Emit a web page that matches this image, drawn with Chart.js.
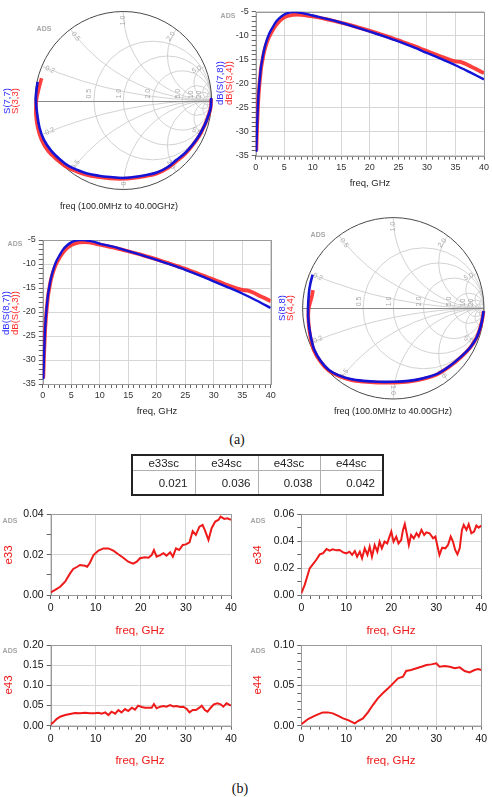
<!DOCTYPE html>
<html><head><meta charset="utf-8">
<script src="https://cdn.jsdelivr.net/npm/chart.js@4.4.1/dist/chart.umd.min.js"></script>
<style>
html,body{margin:0;padding:0;background:#fff;}
#page{position:relative;width:492px;height:797px;overflow:hidden;font-family:"Liberation Sans",Arial,sans-serif;}
#page canvas{position:absolute;left:0;top:0;}
#tbl{position:absolute;left:131px;top:454px;width:252px;border-collapse:collapse;border:2px solid #222;font:11.5px "Liberation Sans",Arial,sans-serif;color:#222;table-layout:fixed;}
#tbl th,#tbl td{border:1px solid #b0b0b0;padding:0;}
#tbl th{height:14px;font-weight:normal;text-align:center;}
#tbl td{height:23px;text-align:right;padding-right:7px;}
.cap{position:absolute;transform:translate(-50%,-50%);font:14px "Liberation Serif","DejaVu Serif",serif;color:#111;}
</style></head>
<body><div id="page">
<div class="cap" style="left:237px;top:440px">(a)</div>
<div class="cap" style="left:240px;top:789px">(b)</div>
</div>
<script>
// ---------- DATA ----------
// Smith chart traces (reflection coefficient, real / imaginary)
const s77Re = [-0.97,-0.985,-0.99,-0.975,-0.95,-0.90,-0.82,-0.73,-0.63,-0.52,-0.41,-0.28,-0.15,-0.015,0.12,0.25,0.38,0.50,0.60,0.70,0.79,0.86,0.92,0.96,0.99,0.995];
const s77Im = [0.21,0.10,0.0,-0.15,-0.30,-0.44,-0.56,-0.65,-0.73,-0.78,-0.82,-0.845,-0.86,-0.87,-0.86,-0.84,-0.81,-0.75,-0.67,-0.59,-0.49,-0.39,-0.28,-0.18,-0.08,0.03];
const s33Re = [-0.925,-0.94,-0.96,-0.985,-0.99,-0.97,-0.925,-0.85,-0.75,-0.645,-0.535,-0.42,-0.29,-0.155,-0.015,0.12,0.25,0.38,0.50,0.605,0.70,0.79,0.865,0.92,0.96,0.99,0.995];
const s33Im = [0.25,0.20,0.12,0.0,-0.15,-0.30,-0.445,-0.57,-0.665,-0.745,-0.795,-0.835,-0.86,-0.875,-0.88,-0.87,-0.85,-0.82,-0.76,-0.68,-0.60,-0.495,-0.39,-0.28,-0.18,-0.08,0.02];
const s88Re = [-0.89,-0.915,-0.93,-0.94,-0.935,-0.91,-0.87,-0.80,-0.71,-0.60,-0.47,-0.33,-0.17,0.0,0.17,0.33,0.49,0.63,0.75,0.85,0.92,0.96,0.985,0.995];
const s88Im = [0.37,0.27,0.17,0.0,-0.15,-0.31,-0.46,-0.58,-0.68,-0.74,-0.78,-0.80,-0.81,-0.81,-0.80,-0.77,-0.72,-0.63,-0.53,-0.43,-0.32,-0.21,-0.10,-0.03];
const s44Re = [-0.885,-0.90,-0.92,-0.935,-0.935,-0.915,-0.875,-0.805,-0.715,-0.605,-0.47,-0.33,-0.17,0.0,0.17,0.33,0.49,0.63,0.75,0.85,0.92,0.96,0.985,0.995];
const s44Im = [0.20,0.12,0.05,-0.02,-0.15,-0.31,-0.465,-0.585,-0.685,-0.745,-0.79,-0.81,-0.82,-0.82,-0.81,-0.78,-0.725,-0.635,-0.535,-0.43,-0.32,-0.21,-0.10,-0.03];

// dB transmission traces
const dbFreq = [0.1,0.18,0.23,0.3,0.35,0.45,0.64,0.8,0.93,1.2,1.46,1.9,2.4,3.0,3.56,4.2,4.85,5.6,6.5,7.3,8,9,10,12.5,15,17.5,20,22.5,25,27.5,30,32.5,35,37.5,40];
const s78dB = [-34.2,-31,-29,-27,-25.5,-23,-19.9,-18,-16.5,-14.6,-13,-11.1,-9.5,-8.2,-7.1,-6.3,-5.7,-5.3,-5.1,-5.1,-5.25,-5.5,-5.8,-6.5,-7.3,-8.2,-9.15,-10.15,-11.2,-12.35,-13.6,-14.85,-16.15,-17.6,-19.1];
const s87dB = [-34,-31,-29,-27,-25.4,-22.9,-19.8,-17.9,-16.4,-14.5,-12.9,-11.0,-9.4,-8.1,-7.0,-6.2,-5.6,-5.2,-5.0,-5.0,-5.15,-5.4,-5.75,-6.45,-7.3,-8.2,-9.15,-10.15,-11.2,-12.35,-13.6,-14.85,-16.15,-17.6,-19.15];
const measFreq = [0.1,0.18,0.23,0.3,0.35,0.45,0.64,0.8,0.93,1.2,1.46,1.9,2.4,3.0,3.56,4.2,4.85,5.6,6.5,7.3,8,9,10,12.5,15,17.5,20,22,24,25,26,27,28,29,30,31,32,33,34,35,36,37,38,39,40];
const s34dB = [-34,-31.2,-29.3,-27.3,-25.9,-23.4,-20.3,-18.4,-16.9,-15.0,-13.4,-11.6,-10.1,-8.8,-7.8,-6.9,-6.3,-5.9,-5.65,-5.6,-5.65,-5.8,-6.0,-6.6,-7.3,-8.1,-9.0,-9.75,-10.55,-10.95,-11.4,-11.85,-12.25,-12.75,-13.2,-13.65,-14.15,-14.55,-15.0,-15.35,-15.5,-16.0,-16.6,-17.2,-17.8];
const s43dB = [-33.8,-31.0,-29.1,-27.1,-25.7,-23.2,-20.1,-18.2,-16.7,-14.8,-13.2,-11.4,-9.9,-8.6,-7.6,-6.75,-6.15,-5.75,-5.5,-5.45,-5.5,-5.7,-5.95,-6.6,-7.35,-8.15,-9.05,-9.8,-10.6,-11.0,-11.45,-11.9,-12.35,-12.8,-13.25,-13.7,-14.2,-14.65,-15.05,-15.4,-15.55,-16.0,-16.6,-17.15,-17.75];

// error terms
const e33Freq = [0,1,2.1,3.2,4.3,5,5.9,6.5,7.6,8.1,8.7,9.5,10.6,11.7,12.8,13.9,15,16.1,17.2,18.3,19.1,19.8,20.9,21.7,22.4,22.9,23.5,24.3,25,25.7,26.5,27.1,27.8,28.5,29.3,30,30.8,31.5,32.2,33,33.7,34.2,35,35.7,36.5,37.2,37.7,38.5,39.2,40];
const e33 = [0.0013,0.0025,0.0041,0.0066,0.0107,0.0129,0.014,0.0149,0.0145,0.014,0.016,0.0198,0.022,0.0231,0.0231,0.022,0.0202,0.0185,0.0165,0.0155,0.0165,0.0182,0.0187,0.0185,0.0198,0.0223,0.019,0.0198,0.0207,0.0195,0.0212,0.019,0.0231,0.0223,0.0248,0.0251,0.0261,0.0317,0.0298,0.0339,0.0347,0.0322,0.0273,0.0331,0.0364,0.0372,0.0388,0.0377,0.038,0.0372];
const e34Freq = [0,0.74,1.3,1.85,2.6,3.3,4.1,4.8,5.6,6.3,7,7.8,8.5,9.3,10,10.7,11.3,11.9,12.4,13,13.5,14.1,14.7,15.2,15.7,16.3,16.9,17.4,17.9,18.5,19.1,19.6,20,20.5,21.1,21.6,22.2,22.6,23,23.5,23.9,24.4,25,25.6,26.1,26.7,27.3,27.8,28.5,29.3,29.8,30.2,30.7,31.3,32,32.6,33.2,33.7,34.2,34.7,35.2,35.7,36.1,36.7,37.2,37.8,38.4,38.9,39.4,40];
const e34 = [0.0012,0.0074,0.0136,0.0198,0.023,0.026,0.0302,0.031,0.0342,0.033,0.034,0.0332,0.0335,0.0317,0.031,0.0322,0.0298,0.0327,0.0285,0.0322,0.0273,0.0347,0.0298,0.036,0.0285,0.0372,0.0322,0.0397,0.0347,0.0397,0.0384,0.0434,0.0471,0.0397,0.0434,0.0384,0.0409,0.0484,0.0528,0.0446,0.0372,0.0446,0.0421,0.0459,0.0434,0.0484,0.0446,0.0466,0.0459,0.0421,0.0434,0.0372,0.0298,0.0352,0.0347,0.0372,0.0434,0.0397,0.0335,0.0302,0.0347,0.0484,0.0521,0.0484,0.0526,0.0459,0.0471,0.0516,0.0501,0.0516];
const e43Freq = [0,0.6,1.3,2.1,3.2,4.3,5.4,6.5,7.6,8.7,9.8,10.6,11.3,12.1,12.8,13.5,14.3,15,15.7,16.5,17.2,18,18.7,19.4,20.2,20.9,21.7,22.4,22.9,23.5,24.3,25,25.7,26.5,27.2,27.9,28.7,29.4,30.2,30.8,31.5,32.2,33,33.5,34.2,34.8,35.5,36.2,37,37.7,38.3,39,40];
const e43 = [0.0033,0.0083,0.0165,0.0223,0.0264,0.029,0.0314,0.0306,0.0322,0.0306,0.0306,0.0322,0.0298,0.033,0.0264,0.0347,0.0298,0.0388,0.033,0.0413,0.0364,0.0446,0.0397,0.0496,0.0463,0.0446,0.0446,0.0446,0.0537,0.043,0.0471,0.0488,0.0471,0.0512,0.0479,0.0488,0.0463,0.0471,0.0413,0.033,0.0388,0.0388,0.0446,0.0496,0.0388,0.0347,0.0446,0.0529,0.0554,0.0529,0.0471,0.0554,0.0496];
const e44Freq = [0,0.74,1.5,2.6,3.7,4.8,5.9,7,8.1,9.3,10.4,11.1,11.9,12.6,13.7,14.8,15.9,17,18.1,19.3,20.4,21.5,22.6,23.3,24.4,25.6,26.7,27.8,28.9,30,30.7,31.9,33,34.1,35.2,36.3,37.4,38.5,39.3,40];
const e44 = [0.0017,0.005,0.0083,0.0112,0.014,0.0165,0.0165,0.0153,0.0124,0.0091,0.007,0.005,0.0029,0.0058,0.0091,0.0165,0.0256,0.0339,0.0401,0.0463,0.0525,0.0587,0.0607,0.0678,0.069,0.0711,0.0731,0.0752,0.076,0.0773,0.0731,0.074,0.0731,0.0711,0.0723,0.0678,0.0661,0.069,0.0702,0.069];

// table
const tableHeaders = ['e33sc','e34sc','e43sc','e44sc'];
const tableValues = ['0.021','0.036','0.038','0.042'];

// Smith grid values
const smithR = [0.5,1,2,5,10,20];
const smithX = [0.2,0.5,1,2,5,10,20];
const smithXLabels = [0.2,0.5,1,2,5];

// ---------- RENDERING ----------
const W=492,H=797;
const LS='"Liberation Sans", Arial, Helvetica, sans-serif';
const BLUE_T='#2b2bff', RED_T='#ff2b2b';
const BLUE_L='#1414d6', RED_L='rgba(255,35,35,0.88)', ERED='#ee1a1a';
const page=document.getElementById('page');
Chart.defaults.font.family=LS;

const xy=(xs,ys)=>xs.map((v,i)=>({x:v,y:ys[i]}));
const f=(s,w)=>`${w||'normal'} ${s}px ${LS}`;

function addCanvas(){const c=document.createElement('canvas');c.width=W;c.height=H;c.style.width=W+'px';c.style.height=H+'px';page.appendChild(c);return c;}

const textPlugin={id:'texts',afterDraw(chart,args,opts){
  const ctx=chart.ctx;(opts.items||[]).forEach(t=>{ctx.save();ctx.font=t.font;ctx.fillStyle=t.color;
    ctx.textAlign=t.align||'center';ctx.textBaseline=t.base||'middle';ctx.translate(t.x,t.y);
    if(t.rot)ctx.rotate(t.rot*Math.PI/180);ctx.fillText(t.text,0,0);ctx.restore();});}};
const framePlugin={id:'frame',beforeDatasetsDraw(chart,args,opts){
  if(!opts.color)return;const a=chart.chartArea,ctx=chart.ctx;ctx.save();ctx.strokeStyle=opts.color;ctx.lineWidth=1;
  ctx.strokeRect(Math.round(a.left)+0.5,Math.round(a.top)+0.5,Math.round(a.right)-Math.round(a.left),Math.round(a.bottom)-Math.round(a.top));ctx.restore();}};
const smithPlugin={id:'smithGrid',beforeDatasetsDraw(chart,args,opts){
  if(!opts.on)return;const ctx=chart.ctx,xs=chart.scales.x,ys=chart.scales.y;
  const cx=xs.getPixelForValue(0),cy=ys.getPixelForValue(0),Rx=xs.getPixelForValue(1)-cx,Ry=cy-ys.getPixelForValue(1);
  const circ=(re,im,rad)=>{ctx.beginPath();ctx.ellipse(cx+re*Rx,cy-im*Ry,Math.abs(rad*Rx),Math.abs(rad*Ry),0,0,Math.PI*2);ctx.stroke();};
  ctx.save();ctx.beginPath();ctx.ellipse(cx,cy,Rx,Ry,0,0,Math.PI*2);ctx.clip();
  ctx.strokeStyle='#cdcdcd';ctx.lineWidth=0.9;
  smithR.forEach(r=>circ(r/(1+r),0,1/(1+r)));
  smithX.forEach(x=>{circ(1,1/x,1/x);circ(1,-1/x,1/x);});
  ctx.restore();
  ctx.save();ctx.strokeStyle='#8a8a8a';ctx.lineWidth=1;ctx.beginPath();ctx.moveTo(cx-Rx,Math.round(cy)+0.5);ctx.lineTo(cx+Rx,Math.round(cy)+0.5);ctx.stroke();
  ctx.strokeStyle='#4a4a4a';ctx.beginPath();ctx.ellipse(cx,cy,Rx,Ry,0,0,Math.PI*2);ctx.stroke();
  ctx.fillStyle='#a8a8a8';ctx.font=f(7);
  smithR.forEach(r=>{const g=(r-1)/(r+1);ctx.save();ctx.translate(cx+g*Rx-1,cy-2);ctx.rotate(-Math.PI/2);ctx.textAlign='left';ctx.textBaseline='bottom';
    ctx.fillText(r<10?r.toFixed(1):String(r),0,0);ctx.restore();});
  smithXLabels.forEach(x=>[1,-1].forEach(s=>{const re=(x*x-1)/(x*x+1),im=s*2*x/(x*x+1);const ph=Math.atan2(im,re);
    const px=cx+0.9*Rx*Math.cos(ph),py=cy-0.9*Ry*Math.sin(ph);ctx.save();ctx.translate(px,py);
    let a=-ph;if(Math.cos(ph)<-0.01)a+=Math.PI;ctx.rotate(a);ctx.textAlign='center';ctx.textBaseline='middle';ctx.fillText(x.toFixed(1),0,0);ctx.restore();}));
  ctx.restore();}};
Chart.register(textPlugin,framePlugin,smithPlugin);

const isMajor=(v,m)=>Math.abs(v/m-Math.round(v/m))<1e-6;

function cart(o){
  const yW=40,xH=26;
  return new Chart(addCanvas(),{type:'line',data:{datasets:o.datasets},options:{
    responsive:false,animation:false,devicePixelRatio:1,
    layout:{padding:{left:o.plot.l-yW,top:o.plot.t,right:W-o.plot.r,bottom:H-o.plot.b-xH}},
    plugins:{legend:{display:false},tooltip:{enabled:false},texts:{items:o.texts},frame:{color:'#9a9a9a'}},
    elements:{point:{radius:0},line:{tension:o.tension||0}},
    scales:{
      x:{type:'linear',min:o.x.min,max:o.x.max,afterFit(s){s.height=xH;s.paddingLeft=0;s.paddingRight=0;},
        ticks:{stepSize:o.x.minor,autoSkip:false,maxRotation:0,padding:o.xPad,color:o.tickColor,font:{size:o.tickSize,family:LS},
          callback:v=>isMajor(v,o.x.major)?String(Math.round(v)):''},
        grid:{color:c=>isMajor(c.tick.value,o.x.major)?'#d6d6d6':'rgba(0,0,0,0)',tickColor:'#666',tickLength:4,lineWidth:1},
        border:{display:false}},
      y:{type:'linear',min:o.y.min,max:o.y.max,afterFit(s){s.width=yW;s.paddingTop=0;s.paddingBottom=0;},
        ticks:{stepSize:o.y.minor,autoSkip:false,padding:o.yPad,color:o.tickColor,font:{size:o.tickSize,family:LS},
          callback:v=>isMajor(v,o.y.major)?o.y.fmt(v):''},
        grid:{color:c=>isMajor(c.tick.value,o.y.major)?'#d6d6d6':'rgba(0,0,0,0)',tickColor:'#666',tickLength:4,lineWidth:1},
        border:{display:false}}
    }}});
}

function smith(o){
  return new Chart(addCanvas(),{type:'scatter',data:{datasets:o.datasets},options:{
    responsive:false,animation:false,devicePixelRatio:1,
    layout:{padding:{left:o.cx-o.Rx,top:o.cy-o.Ry,right:W-(o.cx+o.Rx),bottom:H-(o.cy+o.Ry)}},
    scales:{x:{type:'linear',min:-1,max:1,display:false},y:{type:'linear',min:-1,max:1,display:false}},
    plugins:{legend:{display:false},tooltip:{enabled:false},smithGrid:{on:true},texts:{items:o.texts}}}});
}
const trace=(re,im,color,w)=>({data:xy(re,im),showLine:true,borderColor:color,borderWidth:w,pointRadius:0,tension:0.35,clip:8});
const line=(xs,ys,color,w)=>({data:xy(xs,ys),borderColor:color,borderWidth:w,pointRadius:0,fill:false});
const ads=(x,y)=>({text:'ADS',x,y,font:f(7,'bold'),color:'#a5a5a5'});

// (a) top-left Smith chart
smith({cx:123.3,cy:100.5,Rx:88.3,Ry:89,
  datasets:[trace(s77Re,s77Im,BLUE_L,2.6),trace(s33Re,s33Im,RED_L,3.6)],
  texts:[ads(44,29),{text:'S(7,7)',x:7,y:101,rot:-90,font:f(9.5),color:BLUE_T},{text:'S(3,3)',x:15.5,y:101,rot:-90,font:f(9.5),color:RED_T},
    {text:'freq (100.0MHz to 40.00GHz)',x:119,y:207,font:f(9),color:'#222'}]});

// (a) top-right dB chart
const dbX={min:0,max:40,minor:1,major:5}, dbY={min:-35,max:-5,minor:1,major:5,fmt:v=>String(Math.round(v))};
cart({plot:{l:255.7,r:484,t:11.7,b:155.7},x:dbX,y:dbY,tickColor:'#333',tickSize:9,xPad:2,yPad:3,tension:0.3,
  datasets:[line(dbFreq,s78dB,BLUE_L,2.4),line(measFreq,s34dB,RED_L,3.8)],
  texts:[ads(228,16),{text:'dB(S(7,8))',x:220.5,y:83,rot:-90,font:f(9.5),color:BLUE_T},{text:'dB(S(3,4))',x:229,y:83,rot:-90,font:f(9.5),color:RED_T},
    {text:'freq, GHz',x:370,y:183,font:f(9.5),color:'#222'}]});

// (a) middle-left dB chart
cart({plot:{l:42.7,r:270.7,t:240,b:384},x:dbX,y:dbY,tickColor:'#333',tickSize:9,xPad:2,yPad:3,tension:0.3,
  datasets:[line(dbFreq,s87dB,BLUE_L,2.4),line(measFreq,s43dB,RED_L,3.8)],
  texts:[ads(15,244),{text:'dB(S(8,7))',x:6.5,y:313,rot:-90,font:f(9.5),color:BLUE_T},{text:'dB(S(4,3))',x:15,y:313,rot:-90,font:f(9.5),color:RED_T},
    {text:'freq, GHz',x:157,y:411,font:f(9.5),color:'#222'}]});

// (a) middle-right Smith chart
smith({cx:393.3,cy:308.3,Rx:90.7,Ry:90.7,
  datasets:[trace(s88Re,s88Im,BLUE_L,2.6),trace(s44Re,s44Im,RED_L,3.6)],
  texts:[ads(318,235),{text:'S(8,8)',x:282,y:308,rot:-90,font:f(9.5),color:BLUE_T},{text:'S(4,4)',x:290.5,y:308,rot:-90,font:f(9.5),color:RED_T},
    {text:'freq (100.0MHz to 40.00GHz)',x:393,y:412,font:f(9),color:'#222'}]});

// (b) error-term charts
const eX={min:0,max:40,minor:2,major:10};
const fmt2=v=>v.toFixed(2);
function ePanel(plot,yCfg,fx,fy,label,lx,ly,ax,ay,fxT,fyT){
  cart({plot,x:eX,y:yCfg,tickColor:'#111',tickSize:10.5,xPad:3,yPad:3,
    datasets:[line(fx,fy,ERED,2)],
    texts:[ads(ax,ay),{text:label,x:lx,y:ly,rot:-90,font:f(11.5),color:ERED},{text:'freq, GHz',x:fxT,y:fyT,font:f(11.5),color:ERED}]});
}
ePanel({l:50.7,r:231,t:514.3,b:595},{min:0,max:0.04,minor:0.01,major:0.02,fmt:fmt2},e33Freq,e33,'e33',9,555,10,521,140,631);
ePanel({l:301.3,r:481.3,t:514.3,b:595},{min:0,max:0.06,minor:0.01,major:0.02,fmt:fmt2},e34Freq,e34,'e34',258,555,258,521,391,631);
ePanel({l:50.7,r:231,t:645,b:725.7},{min:0,max:0.2,minor:0.05,major:0.05,fmt:fmt2},e43Freq,e43,'e43',9,685,10,651,140,761);
ePanel({l:301.3,r:481.3,t:645,b:725.7},{min:0,max:0.1,minor:0.01,major:0.05,fmt:fmt2},e44Freq,e44,'e44',258,685,258,651,391,761);

// table
const tbl=document.createElement('table');tbl.id='tbl';
const colW=[63,63,62,63];
const cg=document.createElement('colgroup');colW.forEach(w=>{const c=document.createElement('col');c.style.width=w+'px';cg.appendChild(c);});tbl.appendChild(cg);
const tr1=document.createElement('tr');tableHeaders.forEach(h=>{const th=document.createElement('th');th.textContent=h;tr1.appendChild(th);});
const tr2=document.createElement('tr');tableValues.forEach(v=>{const td=document.createElement('td');td.textContent=v;tr2.appendChild(td);});
tbl.appendChild(tr1);tbl.appendChild(tr2);page.appendChild(tbl);
</script>
</body></html>
